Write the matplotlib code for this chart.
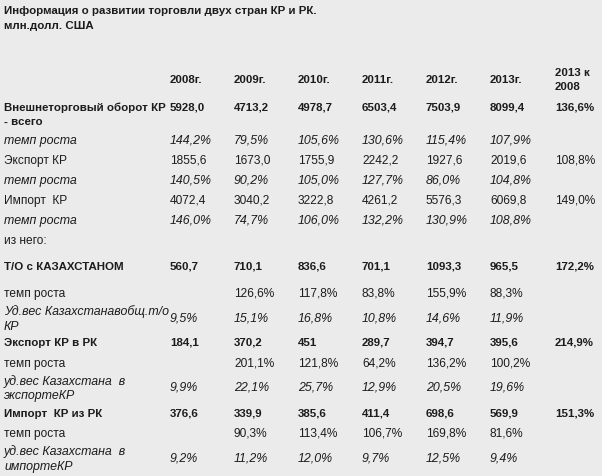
import matplotlib
matplotlib.use("Agg")
import matplotlib.pyplot as plt

plt.rcParams['font.family'] = ['Liberation Sans', 'DejaVu Sans']

title = ["Информация о развитии торговли двух стран КР и РК.", "млн.долл. США"]
years = ["2008г.", "2009г.", "2010г.", "2011г.", "2012г.", "2013г."]
last_head = ["2013 к", "2008"]

# yearly values per row
turnover = [5928.0, 4713.2, 4978.7, 6503.4, 7503.9, 8099.4]
turnover_growth = [144.2, 79.5, 105.6, 130.6, 115.4, 107.9]
export = [1855.6, 1673.0, 1755.9, 2242.2, 1927.6, 2019.6]
export_growth = [140.5, 90.2, 105.0, 127.7, 86.0, 104.8]
imp = [4072.4, 3040.2, 3222.8, 4261.2, 5576.3, 6069.8]
imp_growth = [146.0, 74.7, 106.0, 132.2, 130.9, 108.8]
kz_turnover = [560.7, 710.1, 836.6, 701.1, 1093.3, 965.5]
kz_turnover_growth = [None, 126.6, 117.8, 83.8, 155.9, 88.3]
kz_turnover_share = [9.5, 15.1, 16.8, 10.8, 14.6, 11.9]
kz_export = [184.1, 370.2, 451, 289.7, 394.7, 395.6]
kz_export_growth = [None, 201.1, 121.8, 64.2, 136.2, 100.2]
kz_export_share = [9.9, 22.1, 25.7, 12.9, 20.5, 19.6]
kz_import = [376.6, 339.9, 385.6, 411.4, 698.6, 569.9]
kz_import_growth = [None, 90.3, 113.4, 106.7, 169.8, 81.6]
kz_import_share = [9.2, 11.2, 12.0, 9.7, 12.5, 9.4]
ratio_13_08 = {"turnover": 136.6, "export": 108.8, "imp": 149.0,
               "kz_turnover": 172.2, "kz_export": 214.9, "kz_import": 151.3}

def fmt(v, pct=False):
    if v is None:
        return ""
    s = str(v) if isinstance(v, int) else f"{v:.1f}".replace(".", ",")
    return s + ("%" if pct else "")

# (label lines, values, pct?, last col, weight, style, y of values, y of label lines)
rows = [
    (["Внешнеторговый оборот КР", "- всего"], turnover, False, ratio_13_08["turnover"], "bold", "normal", 108, [108, 122]),
    (["темп роста"], turnover_growth, True, None, "normal", "italic", 141, [141]),
    (["Экспорт КР"], export, False, ratio_13_08["export"], "normal", "normal", 161, [161]),
    (["темп роста"], export_growth, True, None, "normal", "italic", 181, [181]),
    (["Импорт  КР"], imp, False, ratio_13_08["imp"], "normal", "normal", 201, [201]),
    (["темп роста"], imp_growth, True, None, "normal", "italic", 221, [221]),
    (["из него:"], [None] * 6, False, None, "normal", "normal", 241, [241]),
    (["Т/О с КАЗАХСТАНОМ"], kz_turnover, False, ratio_13_08["kz_turnover"], "bold", "normal", 267, [267]),
    (["темп роста"], kz_turnover_growth, True, None, "normal", "normal", 294, [294]),
    (["Уд.вес Казахстанавобщ.т/о", "КР"], kz_turnover_share, True, None, "normal", "italic", 319, [312, 327]),
    (["Экспорт КР в РК"], kz_export, False, ratio_13_08["kz_export"], "bold", "normal", 343, [343]),
    (["темп роста"], kz_export_growth, True, None, "normal", "normal", 364, [364]),
    (["уд.вес Казахстана  в", "экспортеКР"], kz_export_share, True, None, "normal", "italic", 388, [382, 396]),
    (["Импорт  КР из РК"], kz_import, False, ratio_13_08["kz_import"], "bold", "normal", 414, [414]),
    (["темп роста"], kz_import_growth, True, None, "normal", "normal", 434, [434]),
    (["уд.вес Казахстана  в", "импортеКР"], kz_import_share, True, None, "normal", "italic", 459, [452, 467]),
]

col_x = [170, 234, 298, 362, 426, 490]
last_x = 555
label_x = 4
fs = 8.6
fs_bold = 8.25
fs_italic = 8.9
color = "#1c1c1c"

def size(weight, style):
    if weight == "bold":
        return fs_bold
    return fs_italic if style == "italic" else fs

fig = plt.figure(figsize=(6.02, 4.77), dpi=100)
fig.patch.set_facecolor("#ebebeb")
ax = fig.add_axes([0, 0, 1, 1])
ax.set_xlim(0, 602)
ax.set_ylim(477, 0)
ax.axis("off")

ax.text(label_x, 11, title[0], fontsize=fs_bold, fontweight="bold", va="center", color=color)
ax.text(label_x, 26, title[1], fontsize=fs_bold, fontweight="bold", va="center", color=color)

for x, yr in zip(col_x, years):
    ax.text(x, 80, yr, fontsize=fs_bold, fontweight="bold", va="center", color=color)
ax.text(last_x, 73, last_head[0], fontsize=fs_bold, fontweight="bold", va="center", color=color)
ax.text(last_x, 87, last_head[1], fontsize=fs_bold, fontweight="bold", va="center", color=color)

for labels, vals, pct, last, weight, style, yv, yl in rows:
    for line, y in zip(labels, yl):
        ax.text(label_x, y, line, fontsize=size(weight, style), fontweight=weight,
                fontstyle=style, va="center", color=color)
    for x, v in zip(col_x, vals):
        ax.text(x, yv, fmt(v, pct), fontsize=size(weight, style), fontweight=weight,
                fontstyle=style, va="center", color=color)
    if last is not None:
        ax.text(last_x, yv, fmt(last, True), fontsize=size(weight, "normal"), fontweight=weight,
                va="center", color=color)

fig.savefig("out.png", dpi=100, facecolor=fig.get_facecolor())
